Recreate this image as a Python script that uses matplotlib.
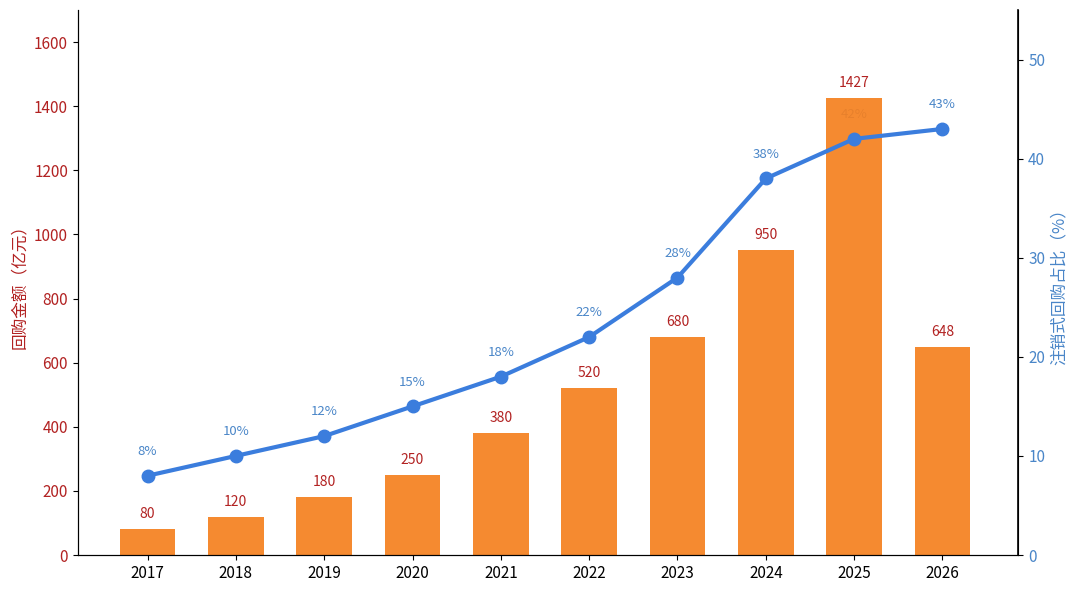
import matplotlib.pyplot as plt
import numpy as np

plt.rcParams['font.family'] = ['Noto Sans CJK SC', 'DejaVu Sans']

years = ['2017', '2018', '2019', '2020', '2021', '2022', '2023', '2024', '2025', '2026']
amount = [80, 120, 180, 250, 380, 520, 680, 950, 1427, 648]   # 回购金额（亿元）
ratio = [8, 10, 12, 15, 18, 22, 28, 38, 42, 43]               # 注销式回购占比（%）

red = '#b22222'
blue = '#4a86c8'
orange = '#f5801e'
line_blue = '#3b7ddd'

fig, ax1 = plt.subplots(figsize=(10.8, 5.92), dpi=100)
fig.subplots_adjust(left=0.072, right=0.943, bottom=0.0625, top=0.983)

x = np.arange(len(years))
ax1.bar(x, amount, width=0.63, color=orange, alpha=0.92, zorder=2)
for xi, v in zip(x, amount):
    ax1.text(xi, v + 25, str(v), ha='center', va='bottom', color=red, fontsize=10, zorder=3)

ax1.set_ylim(0, 1700)
ax1.set_xlim(-0.79, 9.86)
ax1.set_xticks(x)
ax1.set_xticklabels(years, fontsize=11)
ax1.set_yticks(range(0, 1601, 200))
ax1.tick_params(axis='y', colors=red, labelsize=11)
ax1.tick_params(axis='y', color='black')
ax1.set_ylabel('回购金额（亿元）', color=red, fontsize=12)
ax1.spines['top'].set_visible(False)

ax2 = ax1.twinx()
ax2.plot(x, ratio, color=line_blue, linewidth=3, marker='o', markersize=9, zorder=4)
ax2.set_ylim(0, 55)
ax2.set_yticks(range(0, 51, 10))
ax2.tick_params(axis='y', colors=blue, labelsize=11)
ax2.tick_params(axis='y', color='black')
ax2.set_ylabel('注销式回购占比（%）', color=blue, fontsize=12)
ax2.spines['top'].set_visible(False)
ax2.spines['right'].set_linewidth(1.2)

# 百分比标签放在柱子下层（2025年的标签被柱子遮住）
for xi, r in zip(x, ratio):
    ax1.text(xi, r + 1.8, f'{r}%', transform=ax2.transData, color=blue, fontsize=9.5,
             ha='center', va='bottom', zorder=1)

plt.savefig('out.png', dpi=100)
